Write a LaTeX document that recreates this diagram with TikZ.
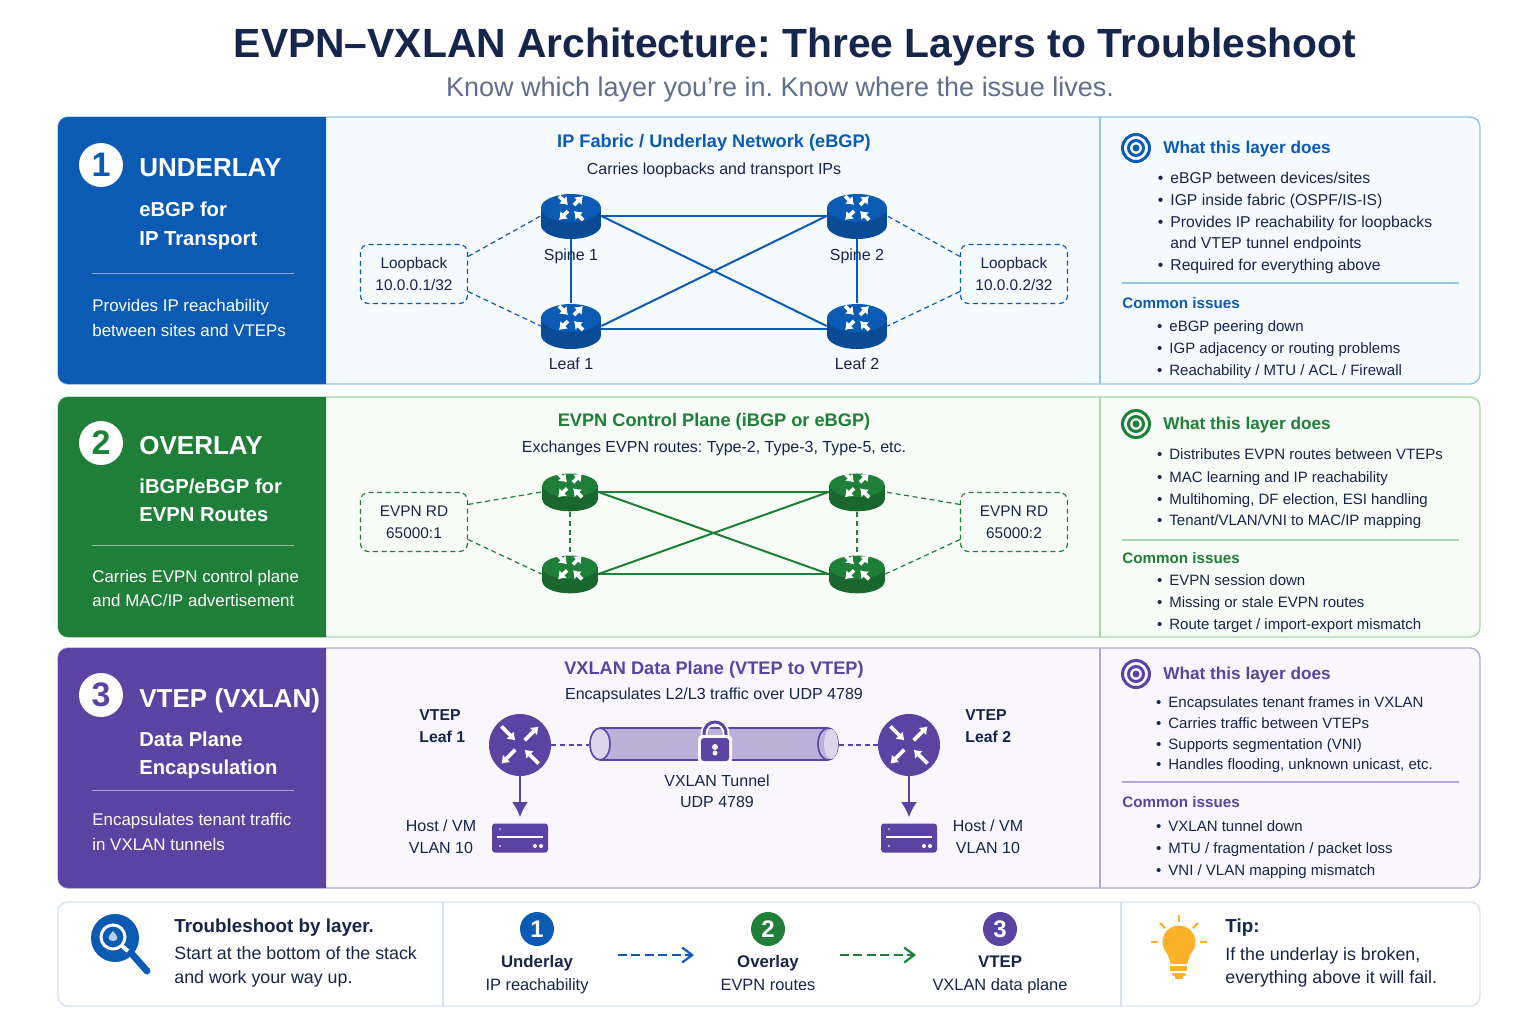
\documentclass[tikz,border=0pt]{standalone}
\usepackage{fontspec}
\setmainfont{Liberation Sans}
\usetikzlibrary{arrows.meta}
\frenchspacing

\definecolor{inkdark}{HTML}{16254B}
\definecolor{inkgrey}{HTML}{5F6F8C}
\definecolor{bluemain}{HTML}{0B5BB5}
\definecolor{blueedge}{HTML}{93C5EE}
\definecolor{bluepale}{HTML}{F5FAFF}
\definecolor{greenmain}{HTML}{1F7E38}
\definecolor{greenedge}{HTML}{A9D6AB}
\definecolor{greenpale}{HTML}{F7FCF6}
\definecolor{violetmain}{HTML}{5B43A2}
\definecolor{violetedge}{HTML}{B4A7DC}
\definecolor{violetpale}{HTML}{F9F7FD}
\definecolor{barline}{HTML}{D5E1F0}
\definecolor{bulbcol}{HTML}{FBB128}

\newcommand{\fsz}[1]{\fontsize{#1}{#1}\selectfont}

\tikzset{
    plain/.style={inner sep=0pt, anchor=mid, text=inkdark, font=\fsz{8}},
    itemline/.style={plain, anchor=mid west},
    bulletline/.style={plain, anchor=mid west, font=\fsz{7.5}, execute at begin node={\llap{\textbullet\hspace{3.5pt}}}},
    heading/.style={inner sep=0pt, font=\bfseries\fsz{8.6}, anchor=mid west},
    common/.style={inner sep=0pt, font=\bfseries\fsz{7.6}, anchor=mid west},
    midhead/.style={inner sep=0pt, anchor=mid, font=\bfseries\fsz{9.1}},
    sidetitle/.style={inner sep=0pt, anchor=mid west, text=white, font=\bfseries\fsz{13}},
    sidesub/.style={inner sep=0pt, anchor=mid west, text=white, font=\bfseries\fsz{10.1}},
    sidetext/.style={inner sep=0pt, anchor=mid west, text=white, font=\fsz{8.45}},
    numbadge/.style={circle, fill=white, inner sep=0pt, minimum size=22pt, font=\bfseries\fsz{17}},
    stepbadge/.style={circle, inner sep=0pt, minimum size=17pt, text=white, font=\bfseries\fsz{12}},
    dashbox/.style={draw, dash pattern=on 2.5pt off 1.8pt, rounded corners=4pt, line width=.6pt, minimum width=53.5pt, minimum height=29.5pt, inner sep=0pt, text=inkdark, align=center, font=\fsz{7.7}},
    routernode/.style={inner sep=0pt, minimum width=30pt, minimum height=23pt},
    smallrouter/.style={inner sep=0pt, minimum width=28pt, minimum height=20pt},
    vtepnode/.style={circle, inner sep=0pt, minimum size=31pt},
    hostnode/.style={inner sep=0pt, minimum width=28pt, minimum height=14.5pt},
    fabric/.style={line width=1pt},
    dashlink/.style={line width=.6pt, dash pattern=on 2.5pt off 1.8pt},
    flowlink/.style={line width=1.1pt, dash pattern=on 4.5pt off 2.2pt, -{Straight Barb[length=5pt,width=7.5pt]}},
    pics/routerarrows/.style={code={
        \foreach \sx/\sy in {1/-1,-1/1}{
            \draw[white, line width=1.8pt, -{Latex[length=3.6pt,width=5.6pt]}] (3*\sx,3*\sy) -- (12*\sx,12*\sy);
            \draw[white, line width=1.8pt, -{Latex[length=3.6pt,width=5.6pt]}] (-12*\sx,12*\sy) -- (-3*\sx,3*\sy);
        }
    }},
    pics/router/.style={code={
        \fill[#1!82!black] (-30,-8) rectangle (30,9);
        \fill[#1!82!black] (0,9) ellipse [x radius=30, y radius=14];
        \fill[#1] (0,-8) ellipse [x radius=30, y radius=14];
        \begin{scope}[shift={(0,-8)}, xscale=1.5, yscale=.62]
            \path (0,0) pic {routerarrows};
        \end{scope}
    }},
    pics/target/.style={code={
        \draw[#1, line width=1.5pt] (0,0) circle [radius=13.5];
        \draw[#1, line width=1.5pt] (0,0) circle [radius=7.5];
        \fill[#1] (0,0) circle [radius=3.5];
    }},
    pics/hostbox/.style={code={
        \fill[violetmain, rounded corners=1.5pt] (-28,-14.5) rectangle (28,14.5);
        \draw[white, line width=.7pt] (-23,-1) -- (23,-1);
        \fill[white!60!violetmain] (-20,-9) circle [radius=1.2];
        \fill[white!80!violetmain] (-20,8) circle [radius=1.2];
        \fill[white] (15,8) circle [radius=2];
        \fill[white] (21,8) circle [radius=2];
    }},
}

\begin{document}
\begin{tikzpicture}[x=.5pt, y=-.5pt]
    \useasboundingbox (0,0) rectangle (1536,1024);
    \fill[white] (0,0) rectangle (1536,1024);

    % title
    \node[inner sep=0pt, anchor=mid, text=inkdark, font=\bfseries\fsz{20.4}] (maintitle) at (795,52) {EVPN–VXLAN Architecture: Three Layers to Troubleshoot};
    \node[inner sep=0pt, anchor=mid, text=inkgrey, font=\fsz{13.5}] (subtitle) at (780,91) {Know which layer you’re in. Know where the issue lives.};

    % the three panels
    \foreach \ytop/\ybot/\col/\edge/\pale in {117/384/bluemain/blueedge/bluepale,397/637/greenmain/greenedge/greenpale,648/888/violetmain/violetedge/violetpale}{
        \fill[\pale, rounded corners=5pt] (58,\ytop) rectangle (1480,\ybot);
        \draw[\edge, line width=.7pt, rounded corners=5pt] (58,\ytop) rectangle (1480,\ybot);
        \fill[\col] (326,\ytop) [rounded corners=5pt] -- (58,\ytop) -- (58,\ybot) [sharp corners] -- (326,\ybot) -- cycle;
        \draw[\edge, line width=.7pt] (1100,\ytop) -- (1100,\ybot);
    }

    % left columns
    \node[numbadge, text=bluemain] (badgeA) at (101,165) {1};
    \node[sidetitle] (nameA) at (139,171) {UNDERLAY};
    \node[sidesub] (subAa) at (139,211) {eBGP for};
    \node[sidesub] (subAb) at (139,240) {IP Transport};
    \draw[white, opacity=.5, line width=.5pt] (92,273) -- (294,273);
    \node[sidetext] (txtAa) at (92,306) {Provides IP reachability};
    \node[sidetext] (txtAb) at (92,331) {between sites and VTEPs};

    \node[numbadge, text=greenmain] (badgeB) at (101,443) {2};
    \node[sidetitle] (nameB) at (139,449) {OVERLAY};
    \node[sidesub] (subBa) at (139,488) {iBGP/eBGP for};
    \node[sidesub] (subBb) at (139,516) {EVPN Routes};
    \draw[white, opacity=.5, line width=.5pt] (92,545) -- (294,545);
    \node[sidetext] (txtBa) at (92,577) {Carries EVPN control plane};
    \node[sidetext] (txtBb) at (92,601) {and MAC/IP advertisement};

    \node[numbadge, text=violetmain] (badgeC) at (101,695) {3};
    \node[sidetitle] (nameC) at (139,702) {VTEP (VXLAN)};
    \node[sidesub] (subCa) at (139,741) {Data Plane};
    \node[sidesub] (subCb) at (139,769) {Encapsulation};
    \draw[white, opacity=.5, line width=.5pt] (92,790) -- (294,790);
    \node[sidetext] (txtCa) at (92,820) {Encapsulates tenant traffic};
    \node[sidetext] (txtCb) at (92,845) {in VXLAN tunnels};

    % underlay
    \node[midhead, text=bluemain] (midA) at (714,142) {IP Fabric / Underlay Network (eBGP)};
    \node[plain] (midAsub) at (714,169) {Carries loopbacks and transport IPs};

    \node[routernode] (spineA) at (571,216) {};
    \node[routernode] (spineB) at (857,216) {};
    \node[routernode] (leafA) at (571,326) {};
    \node[routernode] (leafB) at (857,326) {};
    \node[dashbox, bluemain, text=inkdark] (loopA) at (414,274) {Loopback\\[3.2pt]10.0.0.1/32};
    \node[dashbox, bluemain, text=inkdark] (loopB) at (1014,274) {Loopback\\[3.2pt]10.0.0.2/32};

    \draw[bluemain, fabric] (spineA.east) -- (spineB.west);
    \draw[bluemain, fabric] ([yshift=-1.5pt]leafA.east) -- ([yshift=-1.5pt]leafB.west);
    \draw[bluemain, fabric] (spineA.south) -- (leafA.north);
    \draw[bluemain, fabric] (spineB.south) -- (leafB.north);
    \draw[bluemain, fabric] (spineA.east) -- (leafB.west);
    \draw[bluemain, fabric] (leafA.east) -- (spineB.west);
    \draw[bluemain, dashlink] (loopA.18) -- (spineA.west);
    \draw[bluemain, dashlink] (loopA.-18) -- (leafA.west);
    \draw[bluemain, dashlink] (loopB.162) -- (spineB.east);
    \draw[bluemain, dashlink] (loopB.198) -- (leafB.east);
    \foreach \nd in {spineA,spineB,leafA,leafB}{
        \path (\nd) pic {router=bluemain};
    }
    \node[plain] (spineAlbl) at (571,255) {Spine 1};
    \node[plain] (spineBlbl) at (857,255) {Spine 2};
    \node[plain] (leafAlbl) at (571,364) {Leaf 1};
    \node[plain] (leafBlbl) at (857,364) {Leaf 2};

    % overlay
    \node[midhead, text=greenmain] (midB) at (714,421) {EVPN Control Plane (iBGP or eBGP)};
    \node[plain] (midBsub) at (714,447) {Exchanges EVPN routes: Type-2, Type-3, Type-5, etc.};

    \node[smallrouter] (peerA) at (570,492) {};
    \node[smallrouter] (peerB) at (857,492) {};
    \node[smallrouter] (peerC) at (570,574) {};
    \node[smallrouter] (peerD) at (857,574) {};
    \node[dashbox, greenmain, text=inkdark] (rdA) at (414,522) {EVPN RD\\[3.2pt]65000:1};
    \node[dashbox, greenmain, text=inkdark] (rdB) at (1014,522) {EVPN RD\\[3.2pt]65000:2};

    \draw[greenmain, fabric] (peerA.east) -- (peerB.west);
    \draw[greenmain, fabric] (peerC.east) -- (peerD.west);
    \draw[greenmain, fabric] (peerA.east) -- (peerD.west);
    \draw[greenmain, fabric] (peerC.east) -- (peerB.west);
    \draw[greenmain, dashlink] (peerA.south) -- (peerC.north);
    \draw[greenmain, dashlink] (peerB.south) -- (peerD.north);
    \draw[greenmain, dashlink] (rdA.18) -- (peerA.west);
    \draw[greenmain, dashlink] (rdA.-18) -- (peerC.west);
    \draw[greenmain, dashlink] (rdB.162) -- (peerB.east);
    \draw[greenmain, dashlink] (rdB.198) -- (peerD.east);
    \foreach \nd in {peerA,peerB,peerC,peerD}{
        \path (\nd) pic[xscale=.92, yscale=.84] {router=greenmain};
    }

    % vtep
    \node[midhead, text=violetmain] (midC) at (714,669) {VXLAN Data Plane (VTEP to VTEP)};
    \node[plain] (midCsub) at (714,694) {Encapsulates L2/L3 traffic over UDP 4789};

    \node[vtepnode, fill=violetmain] (vtepA) at (520,745) {};
    \node[vtepnode, fill=violetmain] (vtepB) at (909,745) {};
    \path (vtepA) pic[scale=1.55] {routerarrows};
    \path (vtepB) pic[scale=1.55] {routerarrows};
    \node[hostnode] (hostA) at (520,838) {};
    \node[hostnode] (hostB) at (909,838) {};
    \path (hostA) pic {hostbox};
    \path (hostB) pic {hostbox};

    % tunnel
    \fill[violetmain!42!white] (600,728) rectangle (828,760);
    \draw[violetmain, line width=.8pt] (600,728) -- (828,728);
    \draw[violetmain, line width=.8pt] (600,760) -- (828,760);
    \draw[violetmain, line width=.8pt, fill=violetmain!42!white] (828,744) ellipse [x radius=10, y radius=16];
    \fill[violetmain!22!white] (831,744) ellipse [x radius=7, y radius=15];
    \draw[violetmain, line width=.8pt, fill=violetmain!22!white] (600,744) ellipse [x radius=10, y radius=16];
    \coordinate (tunnelW) at (589,745);
    \coordinate (tunnelE) at (839,745);

    % lock
    \draw[violetpale, line width=3.4pt] (704,740) -- (704,734) .. controls (704,718) and (726,718) .. (726,734) -- (726,740);
    \draw[violetmain, line width=1.5pt] (704,740) -- (704,734) .. controls (704,718) and (726,718) .. (726,734) -- (726,740);
    \fill[violetpale, rounded corners=2pt] (698,735) rectangle (732,764);
    \fill[violetmain, rounded corners=1.5pt] (701,738) rectangle (729,761);
    \fill[violetpale] (715,747) circle [radius=3];
    \fill[violetpale] (715,753) circle [radius=2.5];

    \draw[violetmain, dashlink, line width=.8pt] (vtepA.east) -- (tunnelW);
    \draw[violetmain, dashlink, line width=.8pt] (tunnelE) -- (vtepB.west);
    \draw[violetmain, line width=1pt, shorten >=3pt, -{Latex[length=7.5pt,width=8pt]}] (vtepA.south) -- (hostA.north);
    \draw[violetmain, line width=1pt, shorten >=3pt, -{Latex[length=7.5pt,width=8pt]}] (vtepB.south) -- (hostB.north);

    \node[plain, anchor=mid west, font=\bfseries\fsz{7.9}] (vtepAa) at (419,715) {VTEP};
    \node[plain, anchor=mid west, font=\bfseries\fsz{7.9}] (vtepAb) at (419,737) {Leaf 1};
    \node[plain, anchor=mid west, font=\bfseries\fsz{7.9}] (vtepBa) at (965,715) {VTEP};
    \node[plain, anchor=mid west, font=\bfseries\fsz{7.9}] (vtepBb) at (965,737) {Leaf 2};
    \node[plain] (hostAa) at (441,826) {Host / VM};
    \node[plain] (hostAb) at (441,848) {VLAN 10};
    \node[plain] (hostBa) at (988,826) {Host / VM};
    \node[plain] (hostBb) at (988,848) {VLAN 10};
    \node[plain] (tunnelAa) at (717,781) {VXLAN Tunnel};
    \node[plain] (tunnelAb) at (717,802) {UDP 4789};

    % right columns
    \path (1136,148) pic {target=bluemain};
    \node[heading, text=bluemain] (doesA) at (1163,148) {What this layer does};
    \foreach \ypos/\txt [count=\k] in {178/{eBGP between devices/sites},200/{IGP inside fabric (OSPF/IS-IS)},222/{Provides IP reachability for loopbacks},265/{Required for everything above}}{
        \node[bulletline, font=\fsz{7.85}] (doesA\k) at (1170,\ypos) {\txt};
    }
    \node[itemline, font=\fsz{7.85}] (doesAx) at (1170,243) {and VTEP tunnel endpoints};
    \draw[blueedge, line width=.6pt] (1122,283) -- (1459,283);
    \node[common, text=bluemain] (issA) at (1122,303) {Common issues};
    \foreach \ypos/\txt [count=\k] in {326/{eBGP peering down},348/{IGP adjacency or routing problems},370/{Reachability / MTU / ACL / Firewall}}{
        \node[bulletline] (issA\k) at (1169,\ypos) {\txt};
    }

    \path (1136,424) pic {target=greenmain};
    \node[heading, text=greenmain] (doesB) at (1163,424) {What this layer does};
    \foreach \ypos/\txt [count=\k] in {454/{Distributes EVPN routes between VTEPs},477/{MAC learning and IP reachability},499/{Multihoming, DF election, ESI handling},520/{Tenant/VLAN/VNI to MAC/IP mapping}}{
        \node[bulletline] (doesB\k) at (1169,\ypos) {\txt};
    }
    \draw[greenedge, line width=.6pt] (1122,540) -- (1459,540);
    \node[common, text=greenmain] (issB) at (1122,558) {Common issues};
    \foreach \ypos/\txt [count=\k] in {580/{EVPN session down},602/{Missing or stale EVPN routes},624/{Route target / import-export mismatch}}{
        \node[bulletline] (issB\k) at (1169,\ypos) {\txt};
    }

    \path (1136,674) pic {target=violetmain};
    \node[heading, text=violetmain] (doesC) at (1163,674) {What this layer does};
    \foreach \ypos/\txt [count=\k] in {702/{Encapsulates tenant frames in VXLAN},723/{Carries traffic between VTEPs},744/{Supports segmentation (VNI)},764/{Handles flooding, unknown unicast, etc.}}{
        \node[bulletline] (doesC\k) at (1168,\ypos) {\txt};
    }
    \draw[violetedge, line width=.6pt] (1122,782) -- (1459,782);
    \node[common, text=violetmain] (issC) at (1122,802) {Common issues};
    \foreach \ypos/\txt [count=\k] in {826/{VXLAN tunnel down},848/{MTU / fragmentation / packet loss},870/{VNI / VLAN mapping mismatch}}{
        \node[bulletline] (issC\k) at (1168,\ypos) {\txt};
    }

    % bottom bar
    \draw[barline, line width=.7pt, rounded corners=5pt] (58,902) rectangle (1480,1006);
    \draw[barline, line width=.7pt] (443,902) -- (443,1006);
    \draw[barline, line width=.7pt] (1121,902) -- (1121,1006);

    % magnifier
    \fill[bluemain] (115,938) circle [radius=24];
    \draw[white, line width=1.5pt] (113,937) circle [radius=12];
    \draw[white, line width=2pt] (122,946) -- (128,951);
    \draw[bluemain, line width=3.4pt, line cap=round] (132,954) -- (147,971);
    \fill[white!70!bluemain] (113,931) .. controls (110,935) and (108.5,936) .. (108.5,938) .. controls (108.5,942) and (117.5,942) .. (117.5,938) .. controls (117.5,936) and (116,935) .. (113,931) -- cycle;

    \node[plain, anchor=mid west, font=\bfseries\fsz{9.4}] (tipLa) at (174,927) {Troubleshoot by layer.};
    \node[itemline, font=\fsz{8.9}] (tipLb) at (174,954) {Start at the bottom of the stack};
    \node[itemline, font=\fsz{8.9}] (tipLc) at (174,978) {and work your way up.};

    % steps
    \node[stepbadge, fill=bluemain] (stepA) at (537,929) {1};
    \node[stepbadge, fill=greenmain] (stepB) at (768,929) {2};
    \node[stepbadge, fill=violetmain] (stepC) at (1000,929) {3};
    \node[plain, font=\bfseries\fsz{8.4}] (stepAa) at (537,962) {Underlay};
    \node[plain, font=\bfseries\fsz{8.4}] (stepBa) at (768,962) {Overlay};
    \node[plain, font=\bfseries\fsz{8.4}] (stepCa) at (1000,962) {VTEP};
    \node[plain, font=\fsz{8.2}] (stepAb) at (537,985) {IP reachability};
    \node[plain, font=\fsz{8.2}] (stepBb) at (768,985) {EVPN routes};
    \node[plain, font=\fsz{8.2}] (stepCb) at (1000,985) {VXLAN data plane};
    \coordinate (flowAs) at (618,955);
    \coordinate (flowAe) at (694,955);
    \coordinate (flowBs) at (840,955);
    \coordinate (flowBe) at (916,955);
    \draw[bluemain, flowlink] (flowAs) -- (flowAe);
    \draw[greenmain, flowlink] (flowBs) -- (flowBe);

    % bulb
    \fill[bulbcol] (1179,942) circle [radius=16.5];
    \fill[bulbcol] (1166,950) -- (1192,950) -- (1187,964) -- (1171,964) -- cycle;
    \fill[bulbcol] (1170,966) rectangle (1187,971);
    \fill[bulbcol, rounded corners=1pt] (1172,973) rectangle (1186,976);
    \fill[bulbcol] (1175,976) rectangle (1183,979);
    \foreach \xa/\ya/\xb/\yb in {1179/915/1179/922,1160/923/1165/928,1198/923/1193/928,1151/942/1158/942,1200/942/1207/942}{
        \draw[bulbcol, line width=1.2pt] (\xa,\ya) -- (\xb,\yb);
    }
    \node[plain, anchor=mid west, font=\bfseries\fsz{9.4}] (tipRa) at (1225,927) {Tip:};
    \node[itemline, font=\fsz{8.9}] (tipRb) at (1225,955) {If the underlay is broken,};
    \node[itemline, font=\fsz{8.9}] (tipRc) at (1225,978) {everything above it will fail.};
\end{tikzpicture}
\end{document}
